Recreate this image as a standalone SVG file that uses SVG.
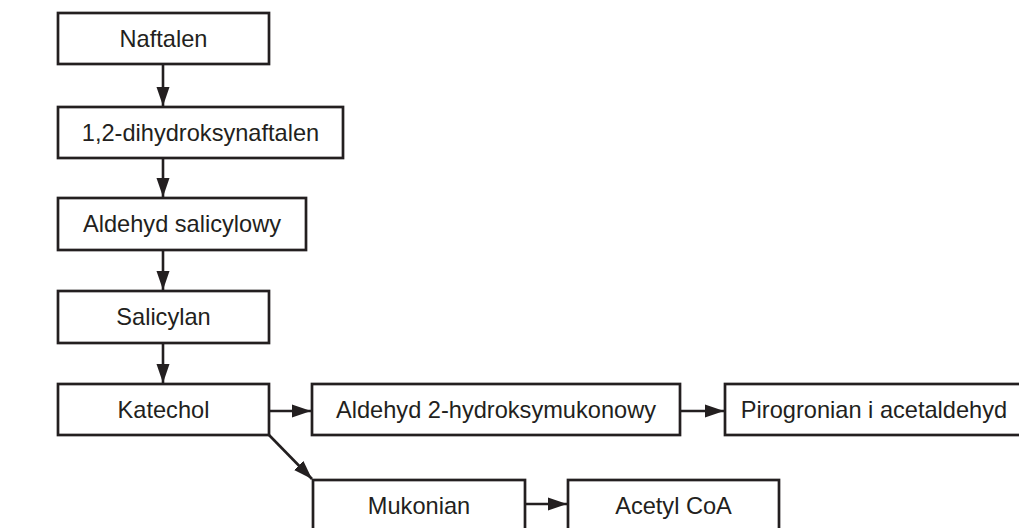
<svg xmlns="http://www.w3.org/2000/svg" width="1019" height="528" viewBox="0 0 1019 528">
<style>
.box{fill:#fff;stroke:#231f20;stroke-width:2.7}
.lbl{font-family:"Liberation Sans",Arial,sans-serif;font-size:23.6px;fill:#231f20;text-anchor:middle}
.edge{stroke:#231f20;stroke-width:2.6;fill:none}
</style>
<defs>
<marker id="ah" markerUnits="userSpaceOnUse" markerWidth="20" markerHeight="14" refX="19" refY="7" orient="auto">
<path d="M0,0.5 L19,7 L0,13.5 Z" fill="#231f20"/>
</marker>
</defs>
<rect width="1019" height="528" fill="#fff"/>
<g id="connectors">
<line class="edge" x1="163" y1="64" x2="163" y2="106" marker-end="url(#ah)"/>
<line class="edge" x1="163" y1="158" x2="163" y2="197" marker-end="url(#ah)"/>
<line class="edge" x1="163" y1="250" x2="163" y2="290" marker-end="url(#ah)"/>
<line class="edge" x1="163" y1="343" x2="163" y2="383" marker-end="url(#ah)"/>
<line class="edge" x1="269" y1="411" x2="311" y2="411" marker-end="url(#ah)"/>
<line class="edge" x1="680" y1="411" x2="724" y2="411" marker-end="url(#ah)"/>
<line class="edge" x1="269" y1="435" x2="312" y2="479" marker-end="url(#ah)"/>
<line class="edge" x1="525" y1="504" x2="567" y2="504" marker-end="url(#ah)"/>
</g>
<g id="n1"><rect class="box" x="58" y="13" width="211" height="51"/><text class="lbl" x="163.5" y="47">Naftalen</text></g>
<g id="n2"><rect class="box" x="58" y="107" width="285" height="51"/><text class="lbl" x="200.5" y="141">1,2-dihydroksynaftalen</text></g>
<g id="n3"><rect class="box" x="58" y="198" width="248" height="52"/><text class="lbl" x="182" y="232">Aldehyd salicylowy</text></g>
<g id="n4"><rect class="box" x="58" y="291" width="211" height="52"/><text class="lbl" x="163.5" y="325">Salicylan</text></g>
<g id="n5"><rect class="box" x="58" y="384" width="211" height="51"/><text class="lbl" x="163.5" y="418">Katechol</text></g>
<g id="n6"><rect class="box" x="312" y="384" width="368" height="51"/><text class="lbl" x="496" y="418">Aldehyd 2-hydroksymukonowy</text></g>
<g id="n7"><rect class="box" x="725" y="384" width="300" height="51"/><text class="lbl" x="874" y="418">Pirogronian i acetaldehyd</text></g>
<g id="n8"><rect class="box" x="313" y="480" width="212" height="60"/><text class="lbl" x="419" y="514">Mukonian</text></g>
<g id="n9"><rect class="box" x="568" y="480" width="211" height="60"/><text class="lbl" x="673.5" y="514">Acetyl CoA</text></g>
</svg>
